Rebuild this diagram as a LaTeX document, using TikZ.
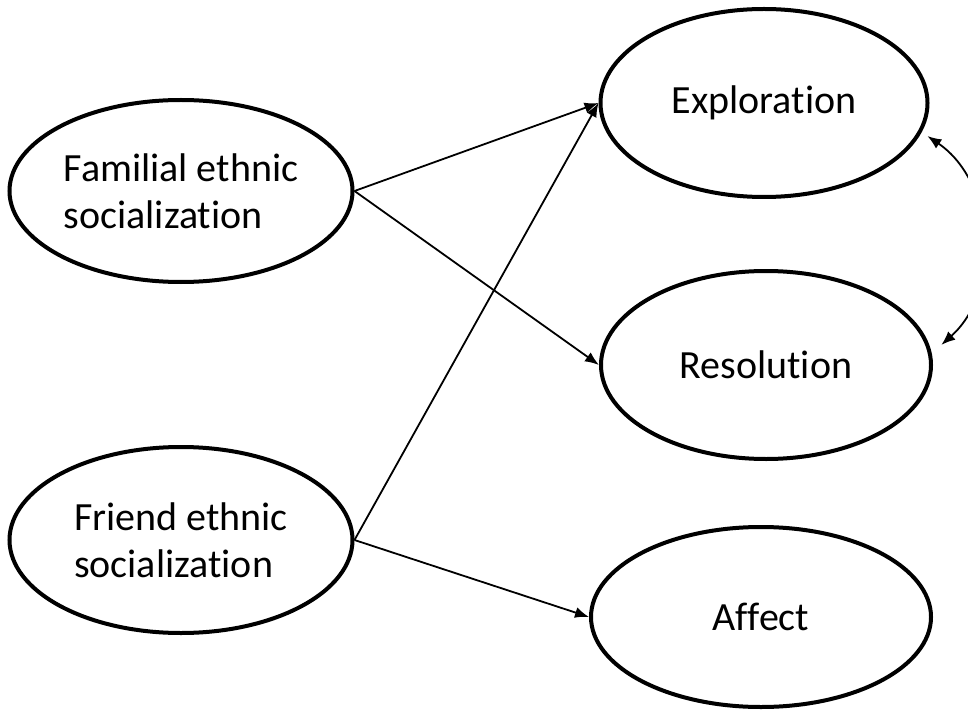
\documentclass[tikz,border=0pt]{standalone}
\usepackage{fontspec}
\setmainfont{Carlito}[Ligatures=NoCommon]
\usetikzlibrary{shapes.geometric,arrows.meta}

\tikzset{
  latent/.style={ellipse, draw, line width=4pt, inner sep=0pt,
    minimum width=336pt, minimum height=184pt, align=left,
    font=\fontsize{40}{47}\selectfont},
  path/.style={-{Latex[length=14pt,width=11pt]}, line width=1.8pt},
}

\begin{document}
\begin{tikzpicture}[x=1pt,y=-1pt]
\useasboundingbox (0,0) rectangle (968,711);

% predictors
\node at (181,191) (fam) [latent, minimum width=343pt, minimum height=182pt] {Familial ethnic\\socialization};
\node at (181,540) (fri) [latent, minimum width=343pt, minimum height=186pt] {Friend ethnic\\socialization};

% outcomes
\node at (764,103) (expl) [latent, minimum width=327pt, minimum height=188pt] {Exploration};
\node at (766,365) (res) [latent, minimum width=330pt, minimum height=188pt] {Resolution};
\node at (761,617) (aff) [latent, minimum width=340pt, minimum height=180pt] {Affect};

% paths
\draw[path] (fam.east) -- (expl.west);
\draw[path] (fam.east) -- (res.west);
\draw[path] (fri.east) -- (expl.west);
\draw[path] (fri.east) -- (aff.west);

% covariance
\draw[path, {Latex[length=14pt,width=11pt]}-{Latex[length=14pt,width=11pt]}]
  ([xshift=8pt]expl.-12) to[bend left=52] ([xshift=12pt]res.7);

\end{tikzpicture}
\end{document}
